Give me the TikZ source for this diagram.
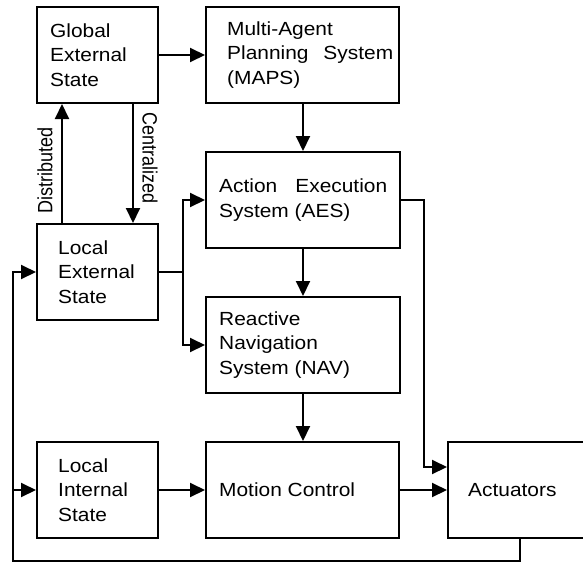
\documentclass[tikz,border=0pt]{standalone}
\usepackage{fontspec}
\setmainfont[FakeStretch=1.1]{Liberation Sans}
\newfontfamily\lblfont{Liberation Sans}
\usetikzlibrary{arrows.meta}

\begin{document}
\begin{tikzpicture}[x=1pt,y=-1pt,
  box/.style={draw, line width=2pt, inner sep=0pt, minimum height=96pt},
  txt/.style={anchor=west, align=left, inner sep=0pt,
              font=\fontsize{19}{24.5}\selectfont},
  arr/.style={line width=2pt, -{Triangle[length=15pt,width=14pt]}},
  lbl/.style={inner sep=0pt, font=\lblfont\fontsize{18}{20}\selectfont,
              transform shape}]
\useasboundingbox (0,0) rectangle (583,562);
\clip (0,0) rectangle (583,562);

% blocks
\node[box, minimum width=121pt] (ges) at (97.5,55) {};
\node[box, minimum width=193pt] (maps) at (302.5,55) {};
\node[box, minimum width=194pt] (aes) at (303,200) {};
\node[box, minimum width=194pt] (nav) at (303,345) {};
\node[box, minimum width=121pt] (les) at (97.5,272) {};
\node[box, minimum width=121pt] (lis) at (97.5,490) {};
\node[box, minimum width=193pt] (mc) at (302.5,490) {};
\node[box, minimum width=144pt] (act) at (520,490) {};

% block texts
\node[txt] (gest) at (50,55) {Global\\External\\State};
\node[txt] (mapst) at (227,55) {Multi-Agent\\\makebox[166pt][s]{Planning System}\\(MAPS)};
\node[txt] (aest) at (219,200) {\makebox[168pt][s]{Action Execution}\\System (AES)};
\node[txt] (navt) at (219,345) {Reactive\\Navigation\\System (NAV)};
\node[txt] (lest) at (58,272) {Local\\External\\State};
\node[txt] (list) at (58,490) {Local\\Internal\\State};
\node[txt] (mct) at (219,490) {Motion Control};
\node[txt] (actt) at (468,490) {Actuators};

% exchange between global and local external state
\coordinate (dx) at (62,0);
\coordinate (cx) at (133,0);
\draw[arr] (les.north -| dx) -- (ges.south -| dx);
\draw[arr] (ges.south -| cx) -- (les.north -| cx);
\begin{scope}[xscale=1.15]
  \node[lbl, rotate=90] (dist) at (39.13,170) {Distributed};
  \node[lbl, rotate=-90] (cent) at (130.43,158) {Centralized};
\end{scope}

% main flow
\coordinate (mx) at (303,0);
\draw[arr] (ges.east) -- (maps.west);
\draw[arr] (maps.south -| mx) -- (aes.north -| mx);
\draw[arr] (aes.south) -- (nav.north);
\draw[arr] (nav.south -| mx) -- (mc.north -| mx);
\draw[arr] (les.east) -- ++(24,0) |- (aes.west);
\draw[arr] (les.east) -- ++(24,0) |- (nav.west);
\draw[arr] (lis.east) -- (mc.west);
\draw[arr] (mc.east) -- (act.west);
\draw[arr] (aes.east) -- ++(23,0) |- ([yshift=23pt]act.west);

% feedback from the actuators
\coordinate (fb) at (13,561);
\draw[arr] (act.south) |- (fb) |- (les.west);
\draw[arr] (fb) |- (lis.west);
\end{tikzpicture}
\end{document}
